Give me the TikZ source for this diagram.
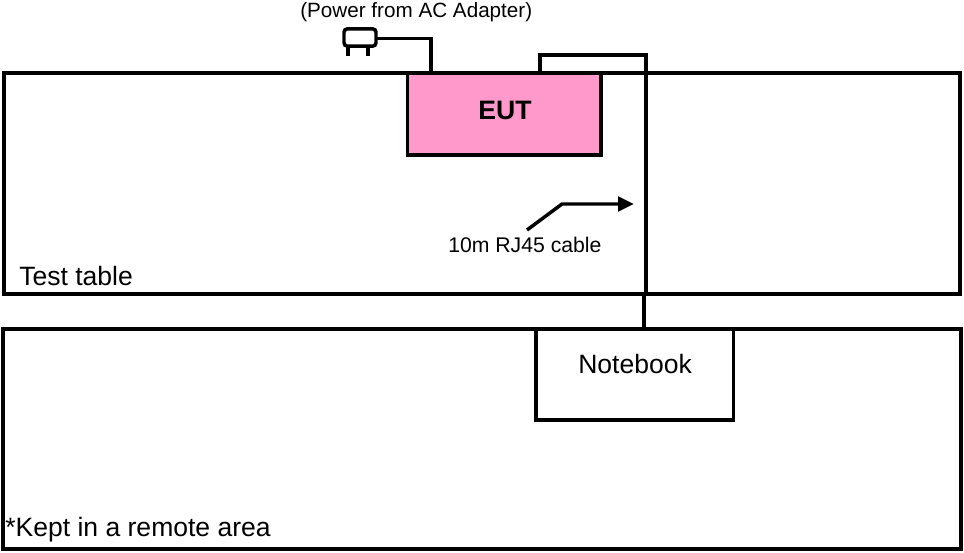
\documentclass[tikz,border=0pt]{standalone}
\usepackage{fontspec}
\setmainfont{Liberation Sans}
\usetikzlibrary{arrows.meta}
\definecolor{eutpink}{HTML}{FF99CC}
\tikzset{
  px/.style={x=0.75pt,y=-0.75pt},
  zone/.style={draw=black,line width=2.6pt,fill=white,outer sep=0pt,inner sep=0pt,anchor=north west},
  cable/.style={draw=black,line width=2.6pt,line join=miter},
  lbl/.style={inner sep=0pt,anchor=base west,text=black},
}
\newcommand{\fs}[1]{\fontsize{#1}{#1}\selectfont}
\begin{document}
\begin{tikzpicture}[px]
\useasboundingbox (0,0) rectangle (964,553);
\node[zone,minimum width=717pt,minimum height=165.75pt] (table) at (4,73) {};
\node[zone,minimum width=718.5pt,minimum height=165pt] (remote) at (3,329) {};
\node[zone,fill=eutpink,minimum width=145pt,minimum height=61.5pt] (eut) at (407.5,73) {};
\node[zone,minimum width=148pt,minimum height=68.25pt] (notebook) at (536,329) {};
\node[draw=black,line width=2.6pt,rounded corners=2.5pt,outer sep=0pt,minimum width=24pt,minimum height=13pt,inner sep=0pt] (plug) at (360,37.5) {};
\coordinate (p1t) at (348,47); \coordinate (p1b) at (348,56);
\coordinate (p2t) at (368,47); \coordinate (p2b) at (368,56);
\draw[cable] (p1t) -- (p1b);
\draw[cable] (p2t) -- (p2b);
\coordinate (pc) at (431,73);
\coordinate (pk) at (431,38.5);
\draw[cable] (plug.east |- pk) -- (pk) -- (pc);
\coordinate (ec) at (540,73);
\coordinate (c1) at (540,55);
\coordinate (c2) at (646,55);
\coordinate (c3) at (646,294);
\coordinate (c4) at (644,294);
\coordinate (c5) at (644,329);
\draw[cable] (ec) -- (c1) -- (c2) -- (c3);
\draw[cable] (c4) -- (c5);
\coordinate (a0) at (527,230);
\coordinate (a1) at (562,204);
\coordinate (a2) at (634,204);
\draw[cable,-{Triangle[length=12pt,width=11pt]}] (a0) -- (a1) -- (a2);
\node[lbl] (t1) at (300,17) {\fs{15.5}(Power from AC Adapter)};
\node[lbl] (t2) at (478,119.5) {\fs{20}\bfseries EUT};
\node[lbl] (t3) at (448,252) {\fs{15.9}10m RJ45 cable};
\node[lbl] (t4) at (19,285) {\fs{19.9}Test table};
\node[lbl] (t5) at (578,373) {\fs{19.9}Notebook};
\node[lbl] (t6) at (5,536) {\fs{19.9}*Kept in a remote area};
\end{tikzpicture}
\end{document}
